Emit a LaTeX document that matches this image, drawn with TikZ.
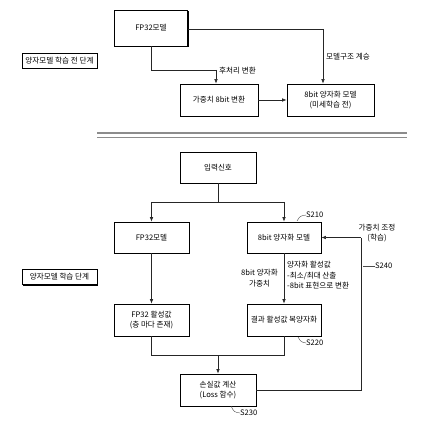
\documentclass[tikz,border=0pt]{standalone}
\usepackage{fontspec}
\setmainfont{Noto Sans CJK KR}
\usetikzlibrary{arrows.meta,shadows}
\begin{document}
\begin{tikzpicture}[x=1pt,y=-1pt,
  font=\fontsize{7.6}{10.5}\selectfont,
  box/.style={draw=black,line width=0.7pt,fill=white,align=center,inner sep=1pt,
    drop shadow={shadow xshift=1.2pt,shadow yshift=-1.2pt,fill=black,opacity=1}},
  stagebox/.style={draw=black,line width=0.6pt,fill=white,inner sep=1pt,minimum width=75pt,minimum height=15pt,
    drop shadow={shadow xshift=1pt,shadow yshift=-1pt,fill=black,opacity=1}},
  conn/.style={line width=0.6pt,draw=black!85},
  arr/.style={conn,-{Latex[length=4.5pt,width=3.5pt]}},
  lead/.style={line width=0.4pt,draw=black!70},
  lbl/.style={inner sep=0pt,align=left}
]
\useasboundingbox (0,0) rectangle (427,435);
% ---- upper stage
\node[box,minimum width=73pt,minimum height=36pt] (fptop) at (151,28) {FP32모델};
\node[stagebox] (prestage) at (59.5,60.5) {양자모델 학습 전 단계};
\node[box,minimum width=78pt,minimum height=32pt] (wconv) at (219,100) {가중치 8bit 변환};
\node[box,minimum width=87pt,minimum height=32pt] (qpre) at (330.5,100) {8bit 양자화 모델\\(미세학습 전)};
\coordinate (j1) at (216,70);
\coordinate (j2) at (323,29);
\draw[conn] (fptop.south) |- (j1);
\draw[arr] (j1) -- (j1 |- wconv.north);
\draw[conn] (fptop.east |- j2) -- (j2);
\draw[arr] (j2) -- (j2 |- qpre.north);
\draw[arr] (wconv.east) -- (qpre.west);
\node[lbl,anchor=west] (t1) at (219,71) {후처리 변환};
\node[lbl,anchor=west] (t2) at (326,57) {모델구조 계승};
% ---- separator
\coordinate (s1) at (97,133);
\coordinate (s2) at (407,133);
\coordinate (s3) at (97,137.5);
\coordinate (s4) at (407,137.5);
\draw[line width=1.2pt,black!45] (s1) -- (s2);
\draw[line width=1.2pt,black!45] (s3) -- (s4);
% ---- lower stage
\node[box,minimum width=76pt,minimum height=31pt] (inp) at (218,167.5) {입력신호};
\node[box,minimum width=75pt,minimum height=31pt] (fpb) at (151.5,237.5) {FP32모델};
\node[box,minimum width=74pt,minimum height=31pt] (q8) at (284,237.5) {8bit 양자화 모델};
\node[stagebox] (stage) at (59.5,277) {양자모델 학습 단계};
\node[box,minimum width=75pt,minimum height=32pt] (fpact) at (151.5,320) {FP32 활성값\\(층 마다 존재)};
\node[box,minimum width=74pt,minimum height=32pt] (deq) at (284,320) {결과 활성값 복양자화};
\node[box,minimum width=76pt,minimum height=32pt] (loss) at (218,390) {손실값 계산\\(Loss 함수)};
\coordinate (b1) at (218,202);
\coordinate (b1l) at (151.5,202);
\coordinate (b1r) at (284,202);
\draw[conn] (inp.south) -- (b1);
\draw[conn] (b1l) -- (b1r);
\draw[arr] (b1l) -- (fpb.north);
\draw[arr] (b1r) -- (q8.north);
\draw[arr] (fpb.south) -- (fpact.north);
\draw[arr] (q8.south) -- (deq.north);
\coordinate (m1) at (218,355);
\draw[conn] (fpact.south) |- (m1);
\draw[conn] (deq.south) |- (m1);
\draw[arr] (m1) -- (loss.north);
\coordinate (fb) at (361,237.5);
\draw[conn] (loss.east) -| (fb);
\draw[arr] (fb) -- (q8.east);
% labels
\node[lbl,align=center] (wl) at (259.5,278) {8bit 양자화\\가중치};
\node[lbl,anchor=north west] (al) at (287,261) {양자화 활성값\\-최소/최대 산출\\-8bit 표현으로 변환};
\node[lbl,align=center] (adj) at (377,233) {가중치 조정\\(학습)};
\node[lbl,anchor=west] (s210) at (306,215) {S210};
\node[lbl,anchor=west] (s220) at (306,343) {S220};
\node[lbl,anchor=west] (s230) at (240,413) {S230};
\node[lbl,anchor=west] (s240) at (375,266) {S240};
\draw[lead] (297,221) .. controls (300,216) .. (s210.west);
\draw[lead] (298,337) .. controls (301,342) .. (s220.west);
\draw[lead] (231,406) .. controls (234,412) .. (s230.west);
\draw[lead] (363,266) -- (s240.west);
\end{tikzpicture}
\end{document}
